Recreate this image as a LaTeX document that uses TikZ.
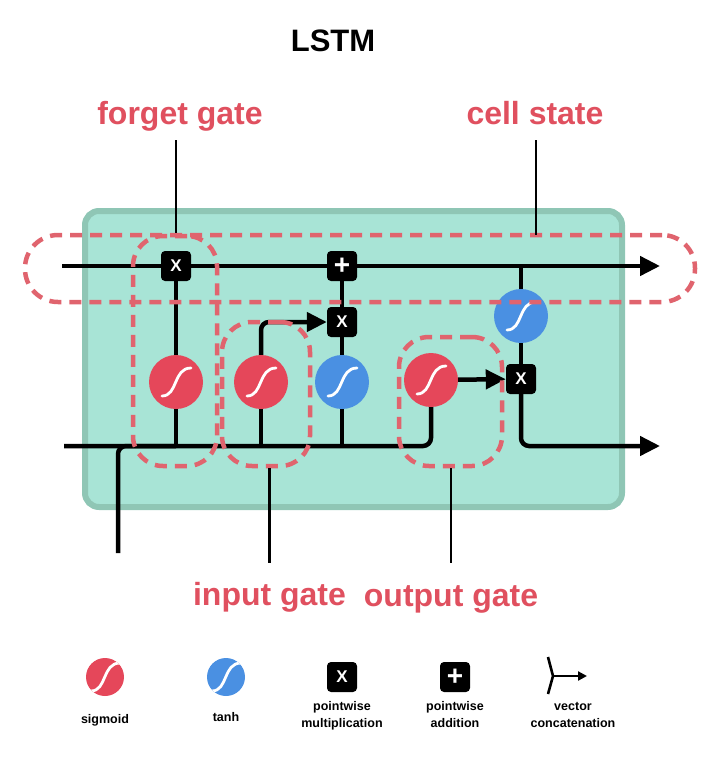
\documentclass[tikz,border=0pt]{standalone}
\usepackage{fontspec}
\setmainfont{Liberation Sans}
\usetikzlibrary{arrows.meta}
\definecolor{sigred}{HTML}{E5475A}
\definecolor{tanhblue}{HTML}{4A90E2}
\definecolor{gatered}{HTML}{E0646E}
\definecolor{labred}{HTML}{E0505F}
\definecolor{cellfill}{HTML}{A8E4D6}
\definecolor{celledge}{HTML}{8FC6B5}
\tikzset{
  flow/.style={black, line width=4.5pt},
  bigtip/.style={-{Triangle[length=20pt,width=19pt]}},
  scurve/.style={white, line width=2.8pt, line cap=round},
  sigmoid/.style={circle, fill=sigred, inner sep=0pt, minimum size=#1,
    path picture={\draw[scurve, shift={(path picture bounding box.center)}, scale=#1/54] (-14,14) .. controls (2,14) and (-3,-14) .. (15,-14);}},
  sigmoid/.default=54,
  tanhc/.style={sigmoid=#1, fill=tanhblue},
  tanhc/.default=54,
  opbox/.style={rectangle, rounded corners=4pt, fill=black, text=white, minimum size=30pt, inner sep=0pt, font=\bfseries\fontsize{17}{17}\selectfont},
  plusbox/.style={opbox, font=\bfseries\fontsize{28}{28}\selectfont},
  gatebox/.style={draw=gatered, line width=4.5pt, dash pattern=on 12pt off 8pt, rounded corners=30pt, inner sep=0pt},
  lab/.style={anchor=base, text=labred, inner sep=0pt, text height=23pt, text depth=6pt, font=\bfseries\fontsize{32}{32}\selectfont},
  leader/.style={black, line width=2.3pt},
  legtext/.style={anchor=base, align=center, font=\bfseries\fontsize{12.5}{16.5}\selectfont}
}
\begin{document}
\begin{tikzpicture}[x=1pt, y=-1pt]
\useasboundingbox (0,0) rectangle (727,764);
\node[anchor=base, font=\bfseries\fontsize{31}{31}\selectfont] (title) at (333,51) {LSTM};
\draw[draw=celledge, fill=cellfill, line width=6pt, rounded corners=14pt] (85,211) rectangle (622,507);
% cell contents
\node[opbox] (fx) at (176,266) {X};
\node[plusbox] (add) at (342,266) {+};
\node[opbox] (ix) at (342,322) {X};
\node[opbox] (ox) at (521,379) {X};
\node[sigmoid] (sigf) at (176,382) {};
\node[sigmoid] (sigi) at (261,382) {};
\node[tanhc] (tanhi) at (342,382) {};
\node[sigmoid] (sigo) at (431,380) {};
\node[tanhc] (tanho) at (521,316) {};
\coordinate (ctin) at (62,266);
\coordinate (ctout) at (660,266);
\coordinate (hin) at (64,446);
\coordinate (hout) at (660,446);
\coordinate (xin) at (118,553);
\draw[flow, bigtip] (ctin) -- (fx) -- (add) -- (ctout);
\draw[flow, rounded corners=8pt] (hin) -- (sigo |- hin) -- (sigo);
\draw[flow, rounded corners=8pt] (xin) -- (xin |- hin) -- (sigf |- hin);
\draw[flow] (sigf |- hin) -- (sigf) -- (fx);
\draw[flow] (sigi |- hin) -- (sigi);
\draw[flow, bigtip, rounded corners=8pt] (sigi) |- (ix);
\draw[flow] (tanhi |- hin) -- (tanhi) -- (ix) -- (add);
\draw[flow, bigtip] (sigo) -- (ox);
\draw[flow] (tanho |- ctin) -- (tanho) -- (ox);
\draw[flow, bigtip, rounded corners=8pt] (ox) |- (hout);
% gates
\node[gatebox, minimum width=84pt, minimum height=230pt] (fg) at (175,351) {};
\node[gatebox, minimum width=88pt, minimum height=144pt] (ig) at (266,394) {};
\node[gatebox, minimum width=103pt, minimum height=129pt] (og) at (450.5,401.5) {};
\node[gatebox, minimum width=670pt, minimum height=67pt, rounded corners=33pt] (cs) at (360,268.5) {};
\node[lab] (fglab) at (180,124) {forget gate};
\node[lab] (cslab) at (535,124) {cell state};
\node[lab] (iglab) at (269.5,605) {input gate};
\node[lab] (oglab) at (451,606) {output gate};
\draw[leader, shorten <=10pt] (fglab.south -| fx) -- (fx |- cs.north);
\draw[leader, shorten <=10pt] (cslab.south) ++(1,0) -- (536,235);
\draw[leader, shorten <=19pt] (iglab.north) -- (iglab.north |- ig.south);
\draw[leader, shorten <=20pt] (oglab.north) -- (oglab.north |- og.south);
% legend
\node[sigmoid=38] (lsig) at (105,677) {};
\node[tanhc=38] (ltanh) at (226,677) {};
\node[opbox] (lmul) at (342,677) {X};
\node[plusbox] (ladd) at (455,677) {+};
\coordinate (lcat) at (553,676);
\draw[line width=2.6pt] (548,657) -- (lcat) -- (548,694);
\draw[line width=2.6pt, -{Triangle[length=9pt,width=9pt]}] (lcat) -- (587,676);
\node[legtext] at (105,723) {sigmoid};
\node[legtext] at (226,721) {tanh};
\node[legtext] at (342,727) {pointwise\\multiplication};
\node[legtext] at (455,727) {pointwise\\addition};
\node[legtext] at (573,727) {vector\\concatenation};
\end{tikzpicture}
\end{document}
